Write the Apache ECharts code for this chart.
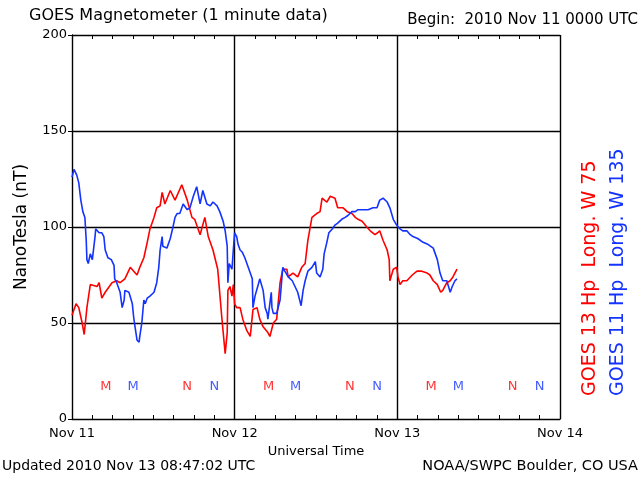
<!DOCTYPE html>
<html>
<head>
<meta charset="utf-8">
<script src="https://cdn.jsdelivr.net/npm/echarts@6/dist/echarts.min.js"></script>
<style>html,body{margin:0;padding:0;background:#fff}#c{width:640px;height:480px}</style>
</head>
<body>
<div id="c"></div>
<script>
// Hours since 2010 Nov 11 0000 UTC
const g13Hours = [0.0,0.6,1.0,1.5,1.8,2.2,2.7,3.7,4.0,4.4,4.9,5.9,6.6,7.1,7.8,8.6,9.1,9.6,10.0,10.6,11.1,11.5,12.1,12.5,13.0,13.3,13.7,14.5,15.2,16.2,17.0,17.7,18.1,18.9,19.6,20.1,20.8,21.5,22.1,22.6,22.9,23.0,23.3,23.6,23.8,24.0,24.3,24.8,25.2,25.8,26.3,26.7,27.3,27.7,28.2,28.9,29.2,29.7,30.2,30.7,31.1,31.7,31.9,32.6,33.3,33.9,34.4,34.8,35.4,36.1,36.6,36.9,37.6,38.1,38.8,39.2,40.0,40.6,41.3,41.8,42.2,42.8,43.5,44.0,44.7,45.1,45.4,45.9,46.5,46.8,46.9,47.4,47.9,48.1,48.4,48.8,49.4,50.2,50.9,51.6,52.4,52.8,53.3,53.9,54.4,54.7,55.3,55.8,56.2,56.8];
const g13Values = [54,60,58,50,44,58,70,69,71,63,66,71,72,71,73,79,77,75,79,84,92,99,105,110,111,118,112,119,114,122,114,105,104,96,105,95,88,78,53,34,45,67,69,64,70,60,58,58,52,46,43,57,58,52,48,45,43,50,52,71,78,78,74,76,74,79,81,93,105,107,108,115,113,116,115,110,110,108,107,105,104,103,100,98,96,97,98,93,88,83,72,78,79,74,70,72,72,75,77,77,76,75,72,70,66,67,71,72,74,78];
const g11Hours = [0.0,0.3,0.4,0.7,1.0,1.3,1.6,1.9,2.1,2.2,2.4,2.7,3.0,3.4,3.5,4.0,4.4,4.7,4.9,5.3,5.8,6.2,6.3,6.6,7.1,7.4,7.7,7.8,8.4,8.9,9.1,9.3,9.6,9.9,10.0,10.3,10.6,10.8,11.1,11.5,12.1,12.5,12.8,13.0,13.3,13.4,14.0,14.5,14.9,15.2,15.5,15.9,16.4,17.0,17.4,17.9,18.4,18.9,19.3,19.9,20.4,20.8,21.4,21.8,22.3,22.6,22.9,23.0,23.2,23.6,23.8,24.0,24.3,24.5,24.8,25.1,25.5,26.0,26.6,26.7,27.0,27.4,27.7,28.2,28.5,28.8,28.9,29.4,29.5,29.7,30.2,30.7,31.1,31.4,31.9,32.5,32.9,33.3,33.8,34.1,34.4,34.8,35.4,35.9,36.1,36.6,37.0,37.2,37.6,37.9,38.4,38.8,39.2,39.8,40.3,40.7,41.3,41.8,42.2,42.9,43.7,44.4,45.0,45.4,45.9,46.5,46.9,47.4,47.9,48.4,48.8,49.4,49.9,50.3,51.0,51.8,52.5,53.3,53.9,54.3,54.7,55.3,55.8,56.1,56.5,56.8];
const g11Values = [126,130,131,127,123,114,108,105,93,83,81,86,83,95,99,97,97,95,88,84,83,80,73,71,66,58,62,67,66,60,53,48,41,40,43,50,62,60,63,64,66,71,79,88,95,90,89,94,100,105,107,107,112,109,110,116,121,112,119,112,111,113,111,108,103,98,90,71,81,78,88,97,95,91,88,87,84,79,73,58,64,69,73,67,58,55,52,66,58,55,55,62,79,77,74,72,69,66,59,67,72,77,79,82,76,74,78,86,92,97,99,101,102,104,105,106,108,108,109,109,109,110,110,114,115,113,110,104,101,99,98,98,96,95,94,92,91,89,83,76,72,72,66,69,72,73];
// Local midnight (M) / noon (N) markers
const g13MarkHours = [5,17,29,41,53,65];
const g13MarkLetters = ['M','N','M','N','M','N'];
const g11MarkHours = [9,21,33,45,57,69];
const g11MarkLetters = ['M','N','M','N','M','N'];
const markLevel = 17;
const dayLabels = ['Nov 11','Nov 12','Nov 13','Nov 14'];
const yTicks = [0,50,100,150,200];

const RED = '#ff0000', BLUE = '#1433ff';
const FONT = 'DejaVu Sans';
const zip = (a,b) => a.map((v,i)=>[v,b[i]]);
const marks = (h,l) => h.map((v,i)=>[v,markLevel,l[i]]);

const chart = echarts.init(document.getElementById('c'), null, {renderer:'canvas'});
chart.setOption({
  animation:false,
  backgroundColor:'#fff',
  grid:{left:72,right:80,top:35,bottom:61},
  xAxis:[
    {type:'value',min:0,max:72,interval:24,position:'bottom',
     axisLine:{show:true,lineStyle:{color:'#000',width:1}},
     axisTick:{show:false},
     axisLabel:{margin:8,color:'#000',fontFamily:FONT,fontSize:13,
       formatter:v=>dayLabels[Math.round(v/24)]},
     splitLine:{show:true,lineStyle:{color:'#000',width:1.4}},
     name:'Universal Time',nameLocation:'middle',nameGap:23,
     nameTextStyle:{color:'#000',fontFamily:FONT,fontSize:13}},
    {type:'value',min:0,max:72,interval:3,position:'bottom',
     axisLine:{show:true,lineStyle:{color:'#000'}},
     axisTick:{show:true,inside:true,length:4,lineStyle:{color:'#000'}},
     axisLabel:{show:false},splitLine:{show:false}},
    {type:'value',min:0,max:72,interval:3,position:'top',
     axisLine:{show:true,lineStyle:{color:'#000'}},
     axisTick:{show:true,inside:true,length:4,lineStyle:{color:'#000'}},
     axisLabel:{show:false},splitLine:{show:false}}
  ],
  yAxis:[
    {type:'value',min:0,max:200,interval:50,position:'left',
     axisLine:{show:true,lineStyle:{color:'#000'}},
     axisTick:{show:true,inside:false,length:4,lineStyle:{color:'#000'}},
     axisLabel:{margin:5,color:'#000',fontFamily:FONT,fontSize:13,
       formatter:v=>String(v)},
     splitLine:{show:true,lineStyle:{color:'#000',width:1.4}},
     name:'NanoTesla (nT)',nameLocation:'middle',nameGap:42,
     nameTextStyle:{color:'#000',fontFamily:FONT,fontSize:17}},
    {type:'value',min:0,max:200,interval:50,position:'right',
     axisLine:{show:true,lineStyle:{color:'#000'}},
     axisTick:{show:false},axisLabel:{show:false},splitLine:{show:false}}
  ],
  series:[
    {type:'line',name:'GOES 13',xAxisIndex:0,yAxisIndex:0,data:zip(g13Hours,g13Values),
     showSymbol:false,lineStyle:{color:RED,width:1.6},itemStyle:{color:RED},z:3},
    {type:'line',name:'GOES 11',xAxisIndex:0,yAxisIndex:0,data:zip(g11Hours,g11Values),
     showSymbol:false,lineStyle:{color:BLUE,width:1.6},itemStyle:{color:BLUE},z:3},
    {type:'scatter',xAxisIndex:0,yAxisIndex:0,data:marks(g13MarkHours,g13MarkLetters),
     symbolSize:1,itemStyle:{color:'rgba(0,0,0,0)'},
     label:{show:true,position:'inside',formatter:p=>p.data[2],color:RED,fontFamily:FONT,fontSize:13}},
    {type:'scatter',xAxisIndex:0,yAxisIndex:0,data:marks(g11MarkHours,g11MarkLetters),
     symbolSize:1,itemStyle:{color:'rgba(0,0,0,0)'},
     label:{show:true,position:'inside',formatter:p=>p.data[2],color:BLUE,fontFamily:FONT,fontSize:13}}
  ],
  graphic:[
    {type:'text',left:29,top:8,style:{text:'GOES Magnetometer (1 minute data)',fill:'#000',font:'16px "DejaVu Sans"'}},
    {type:'text',right:2,top:13,style:{text:'Begin:  2010 Nov 11 0000 UTC',fill:'#000',font:'15px "DejaVu Sans"'}},
    {type:'text',left:2,top:459,style:{text:'Updated 2010 Nov 13 08:47:02 UTC',fill:'#000',font:'14px "DejaVu Sans"'}},
    {type:'text',right:2,top:459,style:{text:'NOAA/SWPC Boulder, CO USA',fill:'#000',font:'14.5px "DejaVu Sans"'}},
    {type:'text',x:581,y:396,rotation:Math.PI/2,style:{text:'GOES 13 Hp  Long. W 75',fill:RED,font:'19px "DejaVu Sans"',textAlign:'left',textVerticalAlign:'top'}},
    {type:'text',x:609,y:396,rotation:Math.PI/2,style:{text:'GOES 11 Hp  Long. W 135',fill:BLUE,font:'19px "DejaVu Sans"',textAlign:'left',textVerticalAlign:'top'}}
  ]
});
</script>
</body>
</html>
